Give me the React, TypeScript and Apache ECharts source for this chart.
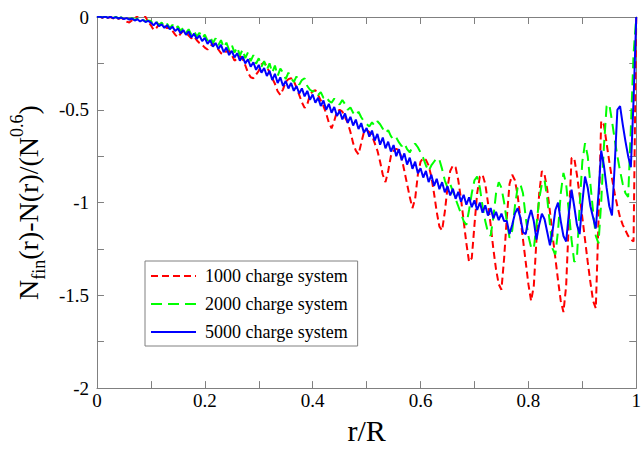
import React, { useEffect, useRef } from "react";
import * as echarts from "echarts";

const R_STEP = 0.005;

const X_TICKS = [0, 0.2, 0.4, 0.6, 0.8, 1];
const Y_TICKS = [0, -0.5, -1, -1.5, -2];

const SERIES_NAMES = ["1000 charge system", "2000 charge system", "5000 charge system"];

// 1000 charge system (values at r = 0, 0.005, ..., 1)
const RED = [
  0.000, 0.002, -0.004, 0.003, -0.005, 0.000, -0.008, -0.002, -0.010, -0.004,
  -0.015, -0.025, -0.030, -0.018, -0.008, 0.005, 0.018, 0.025, 0.000, -0.025,
  -0.045, -0.070, -0.060, -0.040, -0.035, -0.050, -0.060, -0.055, -0.075, -0.095,
  -0.110, -0.090, -0.075, -0.085, -0.100, -0.115, -0.105, -0.125, -0.140, -0.150,
  -0.165, -0.175, -0.160, -0.140, -0.150, -0.175, -0.195, -0.200, -0.185, -0.180,
  -0.205, -0.235, -0.225, -0.210, -0.225, -0.260, -0.300, -0.325, -0.330, -0.310,
  -0.290, -0.255, -0.245, -0.265, -0.300, -0.330, -0.360, -0.400, -0.420, -0.390,
  -0.350, -0.335, -0.330, -0.345, -0.380, -0.420, -0.460, -0.490, -0.470, -0.420,
  -0.400, -0.395, -0.420, -0.450, -0.480, -0.520, -0.570, -0.600, -0.560, -0.510,
  -0.500, -0.510, -0.540, -0.570, -0.620, -0.680, -0.720, -0.740, -0.680, -0.620,
  -0.610, -0.620, -0.640, -0.680, -0.720, -0.780, -0.850, -0.890, -0.830, -0.750,
  -0.720, -0.710, -0.720, -0.760, -0.830, -0.900, -0.970, -1.030, -0.980, -0.850,
  -0.780, -0.760, -0.770, -0.800, -0.860, -0.950, -1.050, -1.130, -1.150, -1.050,
  -0.920, -0.830, -0.800, -0.810, -0.880, -0.980, -1.100, -1.220, -1.320, -1.300,
  -1.120, -0.950, -0.860, -0.850, -0.900, -1.000, -1.120, -1.250, -1.360, -1.440,
  -1.470, -1.300, -1.080, -0.900, -0.850, -0.880, -0.960, -1.080, -1.200, -1.320,
  -1.440, -1.530, -1.450, -1.200, -0.950, -0.830, -0.850, -0.930, -1.050, -1.180,
  -1.300, -1.420, -1.530, -1.590, -1.450, -1.100, -0.760, -0.760, -0.850, -0.960,
  -1.080, -1.200, -1.320, -1.430, -1.530, -1.570, -1.100, -0.560, -0.580, -0.680,
  -0.780, -0.870, -0.950, -1.020, -1.080, -1.120, -1.150, -1.180, -1.200, -1.210,
  0.000,
];

// 2000 charge system
const GREEN = [
  0.000, 0.003, -0.002, 0.004, -0.003, 0.002, -0.005, 0.001, -0.007, -0.002,
  -0.010, -0.004, -0.012, -0.006, -0.015, -0.009, -0.020, -0.013, -0.024, -0.018,
  -0.022, -0.040, -0.025, -0.045, -0.030, -0.052, -0.036, -0.060, -0.042, -0.066,
  -0.050, -0.075, -0.058, -0.085, -0.066, -0.095, -0.075, -0.105, -0.085, -0.115,
  -0.095, -0.128, -0.105, -0.140, -0.115, -0.152, -0.125, -0.165, -0.138, -0.178,
  -0.150, -0.192, -0.162, -0.208, -0.175, -0.222, -0.190, -0.238, -0.205, -0.252,
  -0.222, -0.268, -0.238, -0.285, -0.250, -0.300, -0.262, -0.318, -0.278, -0.300,
  -0.335, -0.300, -0.330, -0.350, -0.320, -0.365, -0.340, -0.330, -0.372, -0.392,
  -0.402, -0.394, -0.420, -0.405, -0.436, -0.428, -0.452, -0.462, -0.440, -0.455,
  -0.472, -0.447, -0.470, -0.500, -0.488, -0.516, -0.532, -0.511, -0.540, -0.562,
  -0.576, -0.590, -0.568, -0.586, -0.562, -0.578, -0.602, -0.626, -0.610, -0.642,
  -0.662, -0.650, -0.676, -0.696, -0.680, -0.712, -0.730, -0.700, -0.682, -0.702,
  -0.730, -0.760, -0.800, -0.830, -0.800, -0.780, -0.760, -0.770, -0.820, -0.880,
  -0.920, -0.900, -0.940, -0.980, -1.020, -1.060, -1.100, -1.120, -1.040, -0.950,
  -0.880, -0.860, -0.920, -1.020, -1.100, -1.160, -1.180, -1.080, -0.950, -0.890,
  -0.920, -1.000, -1.100, -1.190, -1.150, -1.020, -0.920, -0.900, -0.950, -1.080,
  -1.180, -1.240, -1.250, -1.120, -0.980, -0.900, -0.880, -0.980, -1.120, -1.250,
  -1.280, -1.150, -0.950, -0.840, -0.900, -1.050, -1.200, -1.320, -1.300, -1.020,
  -0.780, -0.680, -0.750, -0.900, -1.050, -1.180, -1.220, -1.000, -0.700, -0.480,
  -0.470, -0.560, -0.660, -0.750, -0.830, -0.900, -0.950, -0.970, -0.600, -0.200,
  0.000,
];

// 5000 charge system
const BLUE = [
  0.000, 0.002, -0.003, 0.002, -0.004, 0.001, -0.006, -0.001, -0.008, -0.003,
  -0.011, -0.006, -0.014, -0.008, -0.019, -0.012, -0.024, -0.016, -0.027, -0.021,
  -0.030, -0.045, -0.028, -0.050, -0.040, -0.058, -0.044, -0.066, -0.052, -0.075,
  -0.062, -0.088, -0.070, -0.096, -0.078, -0.110, -0.090, -0.118, -0.100, -0.130,
  -0.112, -0.145, -0.125, -0.160, -0.140, -0.172, -0.150, -0.190, -0.165, -0.205,
  -0.182, -0.218, -0.195, -0.235, -0.212, -0.250, -0.228, -0.268, -0.244, -0.285,
  -0.258, -0.300, -0.275, -0.318, -0.290, -0.340, -0.306, -0.356, -0.325, -0.372,
  -0.345, -0.385, -0.356, -0.398, -0.372, -0.412, -0.385, -0.428, -0.398, -0.446,
  -0.418, -0.462, -0.435, -0.480, -0.450, -0.500, -0.468, -0.516, -0.485, -0.534,
  -0.505, -0.552, -0.520, -0.570, -0.538, -0.585, -0.553, -0.604, -0.572, -0.624,
  -0.598, -0.645, -0.612, -0.666, -0.630, -0.688, -0.650, -0.708, -0.672, -0.725,
  -0.690, -0.750, -0.712, -0.772, -0.735, -0.795, -0.758, -0.818, -0.780, -0.842,
  -0.815, -0.865, -0.830, -0.890, -0.850, -0.910, -0.872, -0.928, -0.890, -0.945,
  -0.912, -0.962, -0.925, -0.980, -0.942, -0.995, -0.958, -1.012, -0.972, -1.025,
  -0.988, -1.040, -1.000, -1.055, -1.015, -1.070, -1.030, -1.085, -1.050, -1.095,
  -1.060, -1.100, -1.100, -1.170, -1.120, -1.060, -1.030, -1.080, -1.160, -1.170,
  -1.090, -1.040, -1.100, -1.200, -1.120, -1.060, -1.090, -1.160, -1.230, -1.150,
  -1.040, -1.000, -1.100, -1.180, -1.210, -1.060, -0.930, -1.020, -1.120, -1.170,
  -1.000, -0.860, -0.920, -1.020, -1.080, -1.140, -0.950, -0.720, -0.800, -0.920,
  -1.020, -1.070, -0.800, -0.500, -0.480, -0.580, -0.670, -0.750, -0.810, -0.450,
  0.000,
];

const FONT = "Liberation Serif";
const AXIS_GREY = "#808080";

const toPairs = (vals: number[]) => vals.map((v, i) => [+(i * R_STEP).toFixed(3), v]);

export default function App() {
  const ref = useRef<HTMLDivElement>(null);

  useEffect(() => {
    if (!ref.current) return;
    const chart = echarts.init(ref.current, undefined, { renderer: "svg" });

    const tickCommon = {
      axisLine: { show: true, onZero: false, lineStyle: { color: AXIS_GREY, width: 1 } },
      axisTick: { show: true, inside: true, length: 7, lineStyle: { color: AXIS_GREY, width: 1 } },
      minorTick: { show: true, splitNumber: 2, length: 7, lineStyle: { color: AXIS_GREY, width: 1 } },
      splitLine: { show: false },
      minorSplitLine: { show: false },
    };

    const xFmt = (v: number) => (X_TICKS.includes(+v.toFixed(2)) ? String(+v.toFixed(2)) : "");
    const yFmt = (v: number) => (Y_TICKS.includes(+v.toFixed(2)) ? String(+v.toFixed(2)) : "");

    const makeSeries = (name: string, vals: number[], color: string, type: any, z: number) => ({
      name,
      type: "line",
      data: toPairs(vals),
      showSymbol: false,
      symbol: "none",
      z,
      lineStyle: { color, width: 2, type },
      itemStyle: { color },
    });

    chart.setOption({
      animation: false,
      backgroundColor: "#ffffff",
      textStyle: { fontFamily: FONT, color: "#000" },
      grid: { left: 90, right: 4, top: 17, bottom: 51, containLabel: false },
      xAxis: [
        {
          type: "value",
          position: "bottom",
          min: 0,
          max: 1,
          interval: 0.2,
          ...tickCommon,
          axisLabel: { color: "#000", fontSize: 19, fontFamily: FONT, margin: 3, formatter: xFmt },
          name: "r/R",
          nameLocation: "middle",
          nameGap: 22,
          nameTextStyle: { color: "#000", fontSize: 30, fontFamily: FONT },
        },
        {
          type: "value",
          position: "top",
          min: 0,
          max: 1,
          interval: 0.2,
          ...tickCommon,
          axisLabel: { show: false },
        },
      ],
      yAxis: [
        {
          type: "value",
          position: "left",
          min: -2,
          max: 0,
          interval: 0.5,
          ...tickCommon,
          axisLabel: { color: "#000", fontSize: 19, fontFamily: FONT, margin: 8, formatter: yFmt },
          name: "{n|N}{s|fin}{n|(r)-N(r)/(N}{p|0.6}{n|)}",
          nameLocation: "middle",
          nameRotate: 90,
          nameGap: 32,
          nameTextStyle: {
            color: "#000",
            fontFamily: FONT,
            fontSize: 28,
            lineHeight: 40,
            rich: {
              n: { fontSize: 28, fontFamily: FONT, color: "#000", verticalAlign: "middle", lineHeight: 40 },
              s: { fontSize: 18, fontFamily: FONT, color: "#000", verticalAlign: "bottom", lineHeight: 20 },
              p: { fontSize: 18, fontFamily: FONT, color: "#000", verticalAlign: "top", lineHeight: 20 },
            },
          },
        },
        {
          type: "value",
          position: "right",
          min: -2,
          max: 0,
          interval: 0.5,
          ...tickCommon,
          axisLabel: { show: false },
        },
      ],
      legend: {
        show: true,
        orient: "vertical",
        left: 145,
        top: 261,
        backgroundColor: "#ffffff",
        borderColor: AXIS_GREY,
        borderWidth: 1,
        borderRadius: 0,
        padding: [6, 10, 5, 5],
        itemWidth: 45,
        itemHeight: 14,
        itemGap: 10,
        itemStyle: { opacity: 0 },
        textStyle: { color: "#000", fontSize: 18, fontFamily: FONT, padding: [0, 0, 0, 4] },
        data: SERIES_NAMES,
      },
      series: [
        makeSeries(SERIES_NAMES[0], RED, "#ff0000", [7, 4], 3),
        makeSeries(SERIES_NAMES[1], GREEN, "#00ff00", [11, 6], 4),
        makeSeries(SERIES_NAMES[2], BLUE, "#0000ff", "solid", 5),
      ],
    });

    return () => chart.dispose();
  }, []);

  return (
    <div
      ref={ref}
      style={{ position: "fixed", left: 0, top: 0, width: 644, height: 450, background: "#fff" }}
    />
  );
}
